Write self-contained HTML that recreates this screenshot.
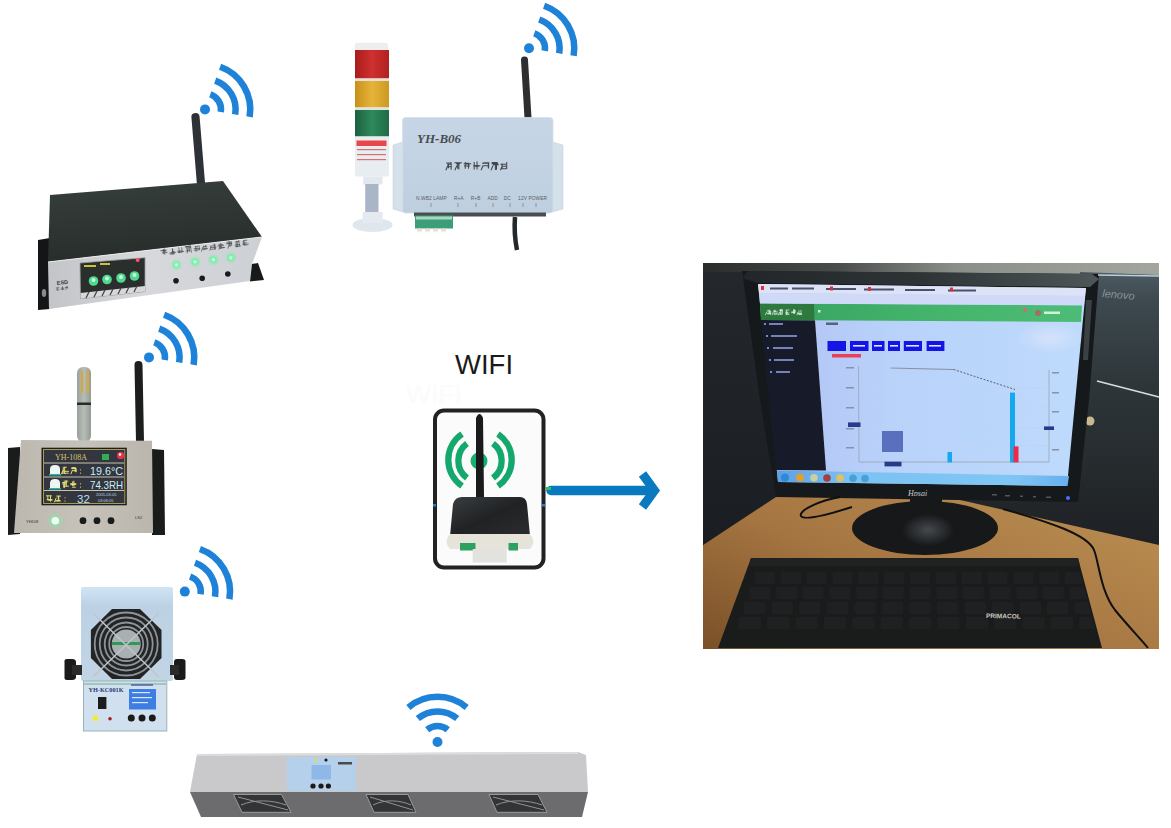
<!DOCTYPE html><html><head><meta charset="utf-8"><style>
html,body{margin:0;padding:0;background:#fff;width:1171px;height:828px;overflow:hidden}
svg{display:block}
text{font-family:"Liberation Sans",sans-serif}
</style></head><body>
<svg width="1171" height="828" viewBox="0 0 1171 828">
<rect width="1171" height="828" fill="#ffffff"/>
<g id="photo">
<defs>
<linearGradient id="wall" x1="0" y1="0" x2="1" y2="0">
 <stop offset="0" stop-color="#2a2c2c"/><stop offset="0.3" stop-color="#4a4d4c"/><stop offset="0.55" stop-color="#8a8e88"/><stop offset="1" stop-color="#a2a69e"/>
</linearGradient>
<linearGradient id="desk" x1="1" y1="0.2" x2="0" y2="1">
 <stop offset="0" stop-color="#b88c50"/><stop offset="0.5" stop-color="#a67642"/><stop offset="1" stop-color="#7a5028"/>
</linearGradient>
<linearGradient id="tower" x1="0" y1="0" x2="0" y2="1">
 <stop offset="0" stop-color="#4e5a62"/><stop offset="0.1" stop-color="#3e4a50"/><stop offset="0.4" stop-color="#2e363a"/><stop offset="0.76" stop-color="#24292c"/><stop offset="1" stop-color="#1e2024"/>
</linearGradient>
<linearGradient id="scr" x1="0" y1="0" x2="1" y2="0">
 <stop offset="0" stop-color="#b2c0f4"/><stop offset="0.4" stop-color="#b8d2fa"/><stop offset="1" stop-color="#bedafc"/>
</linearGradient>
<linearGradient id="task" x1="0" y1="0" x2="1" y2="0">
 <stop offset="0" stop-color="#5c9ee6"/><stop offset="0.25" stop-color="#7cc2f2"/><stop offset="0.8" stop-color="#80c6f4"/><stop offset="1" stop-color="#68b0ee"/>
</linearGradient>
</defs>
<rect x="703" y="263" width="456" height="386" fill="#202428"/>
<rect x="703" y="263" width="456" height="12" fill="url(#wall)"/>
<!-- desk -->
<polygon points="703,545 772,497 1159,497 1159,649 703,649" fill="url(#desk)"/>
<!-- tower -->
<polygon points="1080,272 1159,275 1159,545 960,500 1076,500" fill="url(#tower)"/>
<text x="1102" y="297" font-size="11" font-style="italic" fill="#8a9498" transform="rotate(5 1102 297)">lenovo</text>
<line x1="1097" y1="381" x2="1159" y2="397" stroke="#d8dcdc" stroke-width="1.8"/>
<circle cx="1090" cy="421" r="4.5" fill="#c8b890"/>
<!-- wall left dark -->
<linearGradient id="lwall" x1="0" y1="0" x2="0" y2="1"><stop offset="0" stop-color="#24282c"/><stop offset="1" stop-color="#1a1e22"/></linearGradient>
<polygon points="703,272 745,272 776,497 703,545" fill="url(#lwall)"/>
<!-- monitor bezel -->
<polygon points="742,271 1099,274 1089,400 1078,502 776,497 760,400" fill="#16191c"/>
<polygon points="1086,300 1092,300 1088,360 1083,360" fill="#3a4044"/>
<linearGradient id="bztop" x1="0" y1="0" x2="1" y2="0"><stop offset="0" stop-color="#22262a"/><stop offset="0.5" stop-color="#2e3436"/><stop offset="1" stop-color="#4e5658"/></linearGradient>
<polygon points="748,271 1092,274 1099,279 1090,287 758,283 742,278" fill="url(#bztop)"/>
<line x1="1098" y1="275" x2="1159" y2="276" stroke="#b8d0dc" stroke-width="1.5"/>
<!-- screen -->
<polygon points="758,284 1086,288 1067,486 778,482" fill="url(#scr)"/>
<!-- tabs row -->
<polygon points="758,284 1086,288 1085,296 759,293" fill="#dde2f4"/>
<!-- green band -->
<linearGradient id="gband" x1="0" y1="0" x2="1" y2="0"><stop offset="0" stop-color="#36a262"/><stop offset="0.6" stop-color="#46b66c"/><stop offset="1" stop-color="#4cbc78"/></linearGradient>
<polygon points="760,303.5 1082,305.5 1081,322 761,320" fill="url(#gband)"/>
<polygon points="760,303.5 814,304 814.5,320.4 761,320" fill="#2e7a3e"/>
<!-- sidebar -->
<polygon points="761,320 815,320.4 826,470.5 776,470" fill="#171a28"/>
<!-- taskbar -->
<polygon points="777,470.5 1069,476 1067.5,486 778,482" fill="url(#task)"/>
<g fill="#7088e0">
<rect x="764" y="323" width="2" height="2"/><rect x="766" y="335" width="2" height="2"/><rect x="767" y="347" width="2" height="2"/><rect x="769" y="359" width="2" height="2"/><rect x="770" y="371" width="2" height="2"/>
</g>
<g fill="#8a9ce0" opacity="0.8">
<rect x="769" y="323" width="14" height="2"/><rect x="771" y="335" width="26" height="2"/>
<rect x="773" y="347" width="20" height="2"/><rect x="774" y="359" width="20" height="2"/>
<rect x="776" y="371" width="14" height="2"/>
</g>
<path d="M767.66,313.86H771.12M767.66,311.98H769.97M766.92,313.58H770.79M766.87,310.77H769.88M769.97,310.45V313.47M770.64,310.94V314.57M769.22,309.49V313.42M766.69,311.90L765.30,315.19M773.46,313.92H777.41M773.45,311.41H776.28M772.87,310.98H775.91M774.91,309.70V315.18M777.00,310.71V314.66M773.36,311.90L771.98,315.19M779.69,310.06H782.41M779.16,310.41H782.33M779.93,310.00H782.62M778.70,314.14H782.93M780.97,309.34V314.52M782.45,309.69V313.55M780.72,310.93V314.75M779.70,311.90L778.31,315.19M785.80,309.97H789.45M785.27,313.02H789.49M786.39,314.40H789.32M786.18,309.96V313.78M786.78,310.95V314.84M787.42,311.90L786.03,315.19M793.13,310.77H795.97M791.28,312.55H795.09M791.22,311.93H795.99M793.53,309.34V313.77M794.50,309.23V314.06M798.44,314.28H802.22M797.85,313.86H801.40M799.09,314.05H801.59M798.95,310.33V314.39M801.00,309.90V314.26M798.16,311.90L796.77,315.19" stroke="#e8f0e8" stroke-width="0.72" fill="none"/>
<rect x="818" y="310" width="2.5" height="2.5" fill="#d8f0e0"/>
<circle cx="1038" cy="313" r="3" fill="#a07060"/><rect x="1044" y="311.5" width="16" height="2.5" fill="#d0f0d8"/>
<circle cx="1025" cy="310" r="2" fill="#e06080"/>
<g fill="#4a5070">
<rect x="770" y="287.5" width="18" height="2"/><rect x="792" y="287.5" width="22" height="2"/><rect x="826" y="288" width="30" height="2"/>
<rect x="864" y="288.5" width="30" height="2"/><rect x="905" y="289" width="30" height="2"/><rect x="948" y="289.5" width="28" height="2"/>
<rect x="772" y="297.5" width="60" height="1.6"/>
</g>
<g fill="#e03040"><rect x="761" y="286" width="3" height="4"/><rect x="830" y="286.5" width="3" height="4"/><rect x="868" y="287" width="3" height="4"/><rect x="950" y="287.5" width="3" height="4"/></g>
<rect x="826" y="322.5" width="12" height="2.5" fill="#5a6080"/>
<polygon points="759,293 1085,296 1084,305 760,303.5" fill="#d0daf8"/>
<g>
<circle cx="785" cy="477.5" r="4" fill="#2c8ad8"/><circle cx="800" cy="477.5" r="4" fill="#e0a030"/>
<circle cx="814" cy="477.8" r="3.8" fill="#c8d0a0"/><circle cx="827" cy="478" r="3.8" fill="#a04040"/>
<circle cx="840" cy="478" r="3.8" fill="#e0c060"/><circle cx="853" cy="478.3" r="3.8" fill="#48a0d8"/>
<circle cx="865" cy="478.5" r="3.8" fill="#48a0d8"/>
</g>
<radialGradient id="glare"><stop offset="0" stop-color="#dfe6fa" stop-opacity="0.7"/><stop offset="1" stop-color="#dfe6fa" stop-opacity="0"/></radialGradient>
<ellipse cx="1050" cy="338" rx="34" ry="16" fill="url(#glare)"/>
<!-- buttons -->
<rect x="827.5" y="341" width="18.5" height="10" fill="#1414e6"/>
<rect x="850" y="341" width="18.5" height="10" fill="#1414e6"/>
<rect x="872" y="341" width="12.5" height="10" fill="#1414e6"/>
<rect x="888" y="341" width="12" height="10" fill="#1414e6"/>
<rect x="903.8" y="341" width="18.2" height="10" fill="#1414e6"/>
<rect x="926.6" y="341" width="17.8" height="10" fill="#1414e6"/>
<rect x="832" y="354" width="29" height="3.5" fill="#e8405a"/>
<g fill="#e0e4ff"><rect x="853" y="345" width="12" height="1.6"/><rect x="874" y="345" width="8" height="1.6"/><rect x="890" y="345" width="8" height="1.6"/><rect x="906" y="345" width="13" height="1.6"/><rect x="929" y="345" width="12" height="1.6"/></g>
<g fill="#8a90a8"><rect x="846" y="367" width="8" height="1.5"/><rect x="846" y="387" width="8" height="1.5"/><rect x="846" y="407" width="8" height="1.5"/><rect x="846" y="428" width="8" height="1.5"/><rect x="846" y="447" width="8" height="1.5"/><rect x="1052" y="372" width="7" height="1.5"/><rect x="1052" y="392" width="7" height="1.5"/><rect x="1052" y="411" width="7" height="1.5"/><rect x="1052" y="449" width="7" height="1.5"/></g>
<g fill="#e8ecff"><rect x="884" y="433" width="12" height="1.5"/><rect x="886" y="438" width="8" height="1.5"/><rect x="886" y="443" width="9" height="1.5"/><rect x="886" y="448" width="12" height="1.5"/></g>
<rect x="884" y="437.5" width="1.5" height="2" fill="#18a0f0"/><rect x="884" y="442.5" width="1.5" height="2" fill="#f03050"/>
<!-- chart -->
<line x1="858.5" y1="366" x2="859" y2="462" stroke="#9aa3b3" stroke-width="0.8"/>
<line x1="1049" y1="370" x2="1049" y2="462" stroke="#9aa3b3" stroke-width="0.8"/>
<line x1="859" y1="462" x2="1049" y2="462" stroke="#9aa3b3" stroke-width="0.8"/>
<g stroke="#c4d2f0" stroke-width="0.6">
<line x1="859" y1="388" x2="1049" y2="388"/><line x1="859" y1="408" x2="1049" y2="408"/>
<line x1="859" y1="428" x2="1049" y2="428"/><line x1="859" y1="446" x2="1049" y2="446"/>
</g>
<polyline points="890.6,368 953.6,369.5" stroke="#8a8fa0" stroke-width="1" fill="none"/>
<polyline points="953.6,369.5 1015,389.5" stroke="#5a6078" stroke-width="1" stroke-dasharray="2,1.5" fill="none"/>
<rect x="947.5" y="452" width="4.5" height="10.4" fill="#16a8ee"/>
<rect x="1010" y="392.6" width="5" height="69.8" fill="#16a8ee"/>
<rect x="1013.5" y="446.4" width="5" height="16" fill="#ee2a48"/>
<rect x="882" y="431" width="21" height="21" fill="#5b6fbf"/>
<rect x="848" y="422.4" width="12.5" height="4.6" fill="#2a3a8a"/>
<rect x="1044" y="426.4" width="10" height="3.6" fill="#2a3a8a"/>
<rect x="884.5" y="461.7" width="17" height="4.7" fill="#2a3a8a"/>
<text x="908" y="496" font-size="8" font-style="italic" fill="#c8ccd0" style="font-family:'Liberation Serif',serif">Hpsai</text>
<circle cx="1068" cy="498" r="2" fill="#4a70ff"/>
<g fill="#50565a"><rect x="992" y="494" width="5" height="1.5"/><rect x="1005" y="495" width="5" height="1.5"/><rect x="1020" y="495.5" width="3" height="1.5"/><rect x="1033" y="496" width="3" height="1.5"/><rect x="1046" y="496.5" width="5" height="1.5"/></g>
<!-- stand -->
<ellipse cx="925" cy="528" rx="73" ry="27" fill="#17181a"/>
<rect x="910" y="496" width="32" height="20" fill="#17181a"/>
<radialGradient id="standhl"><stop offset="0" stop-color="#50555a" stop-opacity="0.8"/><stop offset="1" stop-color="#50555a" stop-opacity="0"/></radialGradient>
<ellipse cx="928" cy="530" rx="26" ry="16" fill="url(#standhl)"/>
<!-- keyboard -->
<polygon points="751,558 1078,558 1102,648 718,648" fill="#1a1c1c"/>
<polygon points="751,558 1078,558 1080,566 749,566" fill="#202222"/>
<clipPath id="kbclip"><polygon points="751,566 1078,566 1100,645 721,645"/></clipPath>
<g fill="#1e2021" clip-path="url(#kbclip)">
<rect x="754.8" y="572" width="20.3" height="12" rx="1.5"/>
<rect x="780.7" y="572" width="20.3" height="12" rx="1.5"/>
<rect x="806.5" y="572" width="20.3" height="12" rx="1.5"/>
<rect x="832.4" y="572" width="20.3" height="12" rx="1.5"/>
<rect x="858.2" y="572" width="20.3" height="12" rx="1.5"/>
<rect x="884.0" y="572" width="20.3" height="12" rx="1.5"/>
<rect x="909.9" y="572" width="20.3" height="12" rx="1.5"/>
<rect x="935.7" y="572" width="20.3" height="12" rx="1.5"/>
<rect x="961.6" y="572" width="20.3" height="12" rx="1.5"/>
<rect x="987.4" y="572" width="20.3" height="12" rx="1.5"/>
<rect x="1013.2" y="572" width="20.3" height="12" rx="1.5"/>
<rect x="1039.1" y="572" width="20.3" height="12" rx="1.5"/>
<rect x="1064.9" y="572" width="20.3" height="12" rx="1.5"/>
<rect x="1090.8" y="572" width="20.3" height="12" rx="1.5"/>
<rect x="749.4" y="587" width="20.9" height="12" rx="1.5"/>
<rect x="776.1" y="587" width="20.9" height="12" rx="1.5"/>
<rect x="802.8" y="587" width="20.9" height="12" rx="1.5"/>
<rect x="829.5" y="587" width="20.9" height="12" rx="1.5"/>
<rect x="856.2" y="587" width="20.9" height="12" rx="1.5"/>
<rect x="882.9" y="587" width="20.9" height="12" rx="1.5"/>
<rect x="909.6" y="587" width="20.9" height="12" rx="1.5"/>
<rect x="936.3" y="587" width="20.9" height="12" rx="1.5"/>
<rect x="963.0" y="587" width="20.9" height="12" rx="1.5"/>
<rect x="989.7" y="587" width="20.9" height="12" rx="1.5"/>
<rect x="1016.3" y="587" width="20.9" height="12" rx="1.5"/>
<rect x="1043.0" y="587" width="20.9" height="12" rx="1.5"/>
<rect x="1069.7" y="587" width="20.9" height="12" rx="1.5"/>
<rect x="1096.4" y="587" width="20.9" height="12" rx="1.5"/>
<rect x="744.0" y="602" width="21.6" height="12" rx="1.5"/>
<rect x="771.6" y="602" width="21.6" height="12" rx="1.5"/>
<rect x="799.1" y="602" width="21.6" height="12" rx="1.5"/>
<rect x="826.7" y="602" width="21.6" height="12" rx="1.5"/>
<rect x="854.2" y="602" width="21.6" height="12" rx="1.5"/>
<rect x="881.7" y="602" width="21.6" height="12" rx="1.5"/>
<rect x="909.3" y="602" width="21.6" height="12" rx="1.5"/>
<rect x="936.8" y="602" width="21.6" height="12" rx="1.5"/>
<rect x="964.4" y="602" width="21.6" height="12" rx="1.5"/>
<rect x="991.9" y="602" width="21.6" height="12" rx="1.5"/>
<rect x="1019.4" y="602" width="21.6" height="12" rx="1.5"/>
<rect x="1047.0" y="602" width="21.6" height="12" rx="1.5"/>
<rect x="1074.5" y="602" width="21.6" height="12" rx="1.5"/>
<rect x="1102.1" y="602" width="21.6" height="12" rx="1.5"/>
<rect x="738.6" y="617" width="22.3" height="12" rx="1.5"/>
<rect x="767.0" y="617" width="22.3" height="12" rx="1.5"/>
<rect x="795.4" y="617" width="22.3" height="12" rx="1.5"/>
<rect x="823.8" y="617" width="22.3" height="12" rx="1.5"/>
<rect x="852.2" y="617" width="22.3" height="12" rx="1.5"/>
<rect x="880.6" y="617" width="22.3" height="12" rx="1.5"/>
<rect x="909.0" y="617" width="22.3" height="12" rx="1.5"/>
<rect x="937.4" y="617" width="22.3" height="12" rx="1.5"/>
<rect x="965.8" y="617" width="22.3" height="12" rx="1.5"/>
<rect x="994.1" y="617" width="22.3" height="12" rx="1.5"/>
<rect x="1022.5" y="617" width="22.3" height="12" rx="1.5"/>
<rect x="1050.9" y="617" width="22.3" height="12" rx="1.5"/>
<rect x="1079.3" y="617" width="22.3" height="12" rx="1.5"/>
<rect x="1107.7" y="617" width="22.3" height="12" rx="1.5"/>
</g>
<text x="986" y="618" font-size="6.5" font-weight="bold" fill="#c8c8c0" transform="rotate(1 986 618)">PRIMACOL</text>
<!-- cable -->
<path d="M840,497 C822,500 798,510 801,516 C804,521 830,514 852,507" stroke="#0e0f10" stroke-width="2" fill="none"/>
<path d="M1003,509 C1050,522 1088,535 1094,550 C1099,562 1100,590 1115,610 C1128,626 1140,638 1148,648" stroke="#111" stroke-width="2" fill="none"/>
</g>
<g id="dev1">
<defs>
<linearGradient id="d1front" x1="0" y1="0" x2="1" y2="0">
 <stop offset="0" stop-color="#c2c4c8"/><stop offset="0.45" stop-color="#d6d8dc"/><stop offset="1" stop-color="#cdd0d4"/>
</linearGradient>
<radialGradient id="led"><stop offset="0" stop-color="#f0fff4"/><stop offset="0.4" stop-color="#7af0a8"/><stop offset="1" stop-color="#7af0a8" stop-opacity="0"/></radialGradient>
</defs>
<line x1="195.5" y1="117" x2="201" y2="184" stroke="#2e3236" stroke-width="8.2" stroke-linecap="round"/>
<polygon points="38,240 50,238 50,309 38,310" fill="#141516"/>
<ellipse cx="44" cy="293" rx="2.2" ry="4" fill="#8a8a8a"/>
<linearGradient id="d1top" x1="0.3" y1="0" x2="0.5" y2="1"><stop offset="0" stop-color="#363e3c"/><stop offset="1" stop-color="#262c2a"/></linearGradient>
<polygon points="50,195 223,181 262,237 48,262" fill="url(#d1top)"/>
<polygon points="48,262 262,237 252,264 250,281 49,309" fill="url(#d1front)"/>
<line x1="48" y1="262" x2="262" y2="237" stroke="#eaeaea" stroke-width="1"/>
<polygon points="252,264 258,263 264,280 250,281.5" fill="#18191a"/>
<polygon points="80,263 145,257.7 145,291.5 80.5,298.7" fill="#2a2e2c" stroke="#9a9a9a" stroke-width="0.8"/>
<polygon points="80.5,293 145,286 145,291.5 80.5,298.7" fill="#d8d8d8"/>
<g stroke="#444" stroke-width="1.2">
<line x1="86" y1="298" x2="89" y2="292"/><line x1="94" y1="297" x2="97" y2="291"/><line x1="102" y1="296" x2="105" y2="290"/>
<line x1="110" y1="295" x2="113" y2="289"/><line x1="118" y1="294" x2="121" y2="288"/><line x1="126" y1="293" x2="129" y2="287"/><line x1="134" y1="292" x2="137" y2="286"/>
</g>
<circle cx="93.5" cy="281" r="4.8" fill="#50d890"/><circle cx="93.5" cy="280" r="2" fill="#c8f8d8"/>
<circle cx="107" cy="279.5" r="4.8" fill="#50d890"/><circle cx="107" cy="278.5" r="2" fill="#c8f8d8"/>
<circle cx="121" cy="278" r="4.8" fill="#50d890"/><circle cx="121" cy="277" r="2" fill="#c8f8d8"/>
<circle cx="134.5" cy="276" r="4.8" fill="#50d890"/><circle cx="134.5" cy="275" r="2" fill="#c8f8d8"/>
<rect x="84" y="265" width="12" height="2" fill="#c8c040"/><rect x="100" y="263" width="10" height="2" fill="#c8c040"/>
<circle cx="137.6" cy="260" r="2" fill="#ff5070"/>
<circle cx="176.5" cy="264.8" r="6" fill="url(#led)"/>
<circle cx="195" cy="261.8" r="6" fill="url(#led)"/>
<circle cx="213.4" cy="259.7" r="6" fill="url(#led)"/>
<circle cx="230.9" cy="257.7" r="6" fill="url(#led)"/>
<circle cx="176" cy="280.8" r="2.8" fill="#1a1a1a"/>
<circle cx="202.2" cy="278.2" r="2.8" fill="#1a1a1a"/>
<circle cx="227.8" cy="274" r="2.8" fill="#1a1a1a"/>
<path d="M162.34,250.98H166.57M163.52,251.65H166.91M162.16,253.20H167.87M161.00,250.74H167.27M163.94,249.25V254.40M164.99,248.92V255.11M169.42,254.11H176.21M170.87,254.24H174.45M170.27,255.25H175.01M171.65,253.30H175.25M173.10,250.74V255.98M173.09,249.64V254.10M173.35,250.02V255.01M177.61,253.18H182.57M178.06,254.05H184.47M178.37,254.52H182.87M179.67,249.31V255.10M182.57,249.62V253.97M185.67,249.58H192.00M186.12,249.65H191.82M186.16,253.85H190.49M186.69,251.01H191.55M189.90,248.58V254.98M187.74,249.11V255.02M191.53,249.58V256.14M188.99,251.96L187.19,256.25M195.74,250.47H199.05M196.19,252.98H200.80M194.25,254.14H200.50M194.43,252.36H198.78M199.93,249.63V253.96M196.51,250.30V255.85M203.27,254.03H207.93M203.73,251.49H207.81M203.13,253.76H208.25M204.49,250.66V255.11M206.60,250.10V254.41M203.46,251.96L201.65,256.25M210.53,253.50H217.13M210.81,251.88H215.99M211.61,255.19H216.47M215.12,249.43V255.28M215.83,250.30V255.26M211.99,251.96L210.18,256.25M218.44,252.73H224.88M220.41,254.74H225.36M219.75,254.78H225.08M218.65,251.64H223.98M220.85,250.31V255.51M221.97,249.88V254.40M221.08,251.96L219.28,256.25M227.50,249.82H231.50M228.33,251.36H233.11M227.05,251.23H233.00M232.40,249.31V253.98M230.15,249.49V254.33M231.05,249.25V254.47M230.05,251.96L228.24,256.25M235.73,255.10H241.63M235.55,253.47H240.79M237.08,250.26H240.33M238.23,249.87V255.88M237.14,249.53V255.91M240.08,248.99V255.17M244.11,252.48H247.82M244.44,250.02H248.48M243.04,253.90H249.65M244.60,254.69H248.12M245.22,249.73V254.50M244.31,250.33V254.58" stroke="#505050" stroke-width="0.70" fill="none" transform="rotate(-6.5 161 256)"/>
<text x="57" y="285" font-size="5.5" font-weight="bold" fill="#333" transform="rotate(-6.5 57 285)">ESD</text>
<path d="M57.26,288.32H59.69M56.90,290.26H59.50M56.89,290.20H58.83M57.17,287.60H59.61M57.79,287.93V290.63M56.63,287.21V290.04M61.53,290.06H64.39M60.86,289.95H64.25M61.55,288.95H63.86M61.00,288.77H63.67M62.91,287.30V290.62M62.85,287.20V290.43M66.01,288.80H68.32M65.25,288.33H68.07M65.36,288.58H67.96M67.19,287.57V290.58M68.05,287.76V290.02M66.39,288.78L65.40,291.13" stroke="#444" stroke-width="0.38" fill="none" transform="rotate(-6.5 56 291)"/>
</g>
<path d="M210.3,94.3 A16.0,16.0 0 0 1 220.8,112.0" stroke="#1e82d8" stroke-width="6.5" fill="none"/>
<path d="M215.2,80.6 A30.6,30.6 0 0 1 235.2,114.5" stroke="#1e82d8" stroke-width="6.5" fill="none"/>
<path d="M220.1,66.8 A45.2,45.2 0 0 1 249.6,116.9" stroke="#1e82d8" stroke-width="6.5" fill="none"/>
<circle cx="205" cy="109.4" r="5.0" fill="#1e82d8"/>
<g id="dev2">
<defs>
<linearGradient id="red" x1="0" y1="0" x2="1" y2="0"><stop offset="0" stop-color="#a81c1c"/><stop offset="0.5" stop-color="#d03030"/><stop offset="1" stop-color="#b02020"/></linearGradient>
<linearGradient id="amb" x1="0" y1="0" x2="1" y2="0"><stop offset="0" stop-color="#c8901a"/><stop offset="0.5" stop-color="#e6b43a"/><stop offset="1" stop-color="#cc9a22"/></linearGradient>
<linearGradient id="grn" x1="0" y1="0" x2="1" y2="0"><stop offset="0" stop-color="#1c6040"/><stop offset="0.5" stop-color="#2f8a5c"/><stop offset="1" stop-color="#1f6a46"/></linearGradient>
<linearGradient id="box2" x1="0" y1="0" x2="0" y2="1"><stop offset="0" stop-color="#c6d6e6"/><stop offset="1" stop-color="#becfe0"/></linearGradient>
</defs>
<rect x="354.7" y="42.7" width="33.5" height="8" rx="3" fill="#eeeeee"/>
<rect x="355" y="50" width="34" height="28.5" fill="url(#red)"/>
<rect x="355" y="78.5" width="34" height="2.5" fill="#e8e0d8"/>
<rect x="355" y="81" width="34" height="26.5" fill="url(#amb)"/>
<rect x="355" y="107.5" width="34" height="2.5" fill="#e0e4e0"/>
<rect x="355" y="110" width="34" height="26.5" fill="url(#grn)"/>
<rect x="355" y="136.5" width="34" height="40" fill="#e8edf2"/>
<rect x="356.5" y="140.5" width="30" height="5.5" fill="#e84848"/>
<rect x="357" y="149" width="29" height="1.2" fill="#d87070"/>
<rect x="357" y="154" width="29" height="1.2" fill="#d87070"/>
<rect x="357" y="159" width="29" height="1.2" fill="#d87070"/>
<rect x="363.2" y="176.5" width="19.3" height="8" fill="#e2e8ee"/>
<rect x="365.2" y="184" width="13.3" height="30" fill="#aab6c8"/>
<ellipse cx="372.5" cy="225" rx="20" ry="7" fill="#dfe6ec"/>
<rect x="362.6" y="212" width="20" height="11" fill="#e4eaf0"/>
<line x1="524.5" y1="60" x2="528" y2="118" stroke="#2c2e30" stroke-width="7" stroke-linecap="round"/>
<polygon points="393,145 403,142 403,212 393,209" fill="#d4e0ea" stroke="#c0ccd8" stroke-width="0.5"/>
<polygon points="552,142 563,145 563,209 552,212" fill="#d4e0ea" stroke="#c0ccd8" stroke-width="0.5"/>
<rect x="402.5" y="117.5" width="150.5" height="95.5" rx="3" fill="url(#box2)" stroke="#d4e0ec" stroke-width="0.8"/>
<rect x="414" y="212.5" width="132" height="4" fill="#4a4d50"/>
<rect x="415" y="215.5" width="38" height="13" fill="#3c9e78"/>
<rect x="416" y="216.5" width="36" height="3" fill="#a8d8c0"/>
<g fill="#e8e0d0"><rect x="417" y="228.5" width="5" height="3"/><rect x="425" y="228.5" width="5" height="3"/><rect x="433" y="228.5" width="5" height="3"/><rect x="441" y="228.5" width="5" height="3"/></g>
<path d="M515,217 C514,230 515,240 517,250" stroke="#25282a" stroke-width="4.5" fill="none"/>
<text x="417" y="143" style="font-family:'Liberation Serif',serif;font-size:13px;font-style:italic;font-weight:bold" fill="#4a4d50">YH-B06</text>
<path d="M447.14,166.68H451.76M447.08,164.23H451.09M446.27,163.07H451.58M448.45,163.92V168.34M451.15,162.36V169.77M447.86,165.47L445.83,170.28M456.09,163.65H460.24M454.40,162.66H461.15M454.98,162.77H461.88M457.70,164.13V168.80M458.86,163.82V169.46M456.92,165.47L454.89,170.28M463.67,163.79H471.14M463.95,166.00H469.94M465.66,164.03H470.08M465.72,163.27H468.92M465.28,161.96V168.73M468.50,163.07V168.77M473.89,166.14H479.24M474.29,165.49H478.13M473.27,165.74H480.31M474.19,161.91V169.50M477.05,161.59V169.50M483.81,162.72H488.11M482.81,165.71H488.56M483.39,162.87H489.32M482.08,163.22H487.61M488.58,163.07V168.39M488.32,162.48V168.31M483.08,165.47L481.06,170.28M491.71,162.60H497.68M491.59,163.80H498.19M493.04,164.79H498.80M495.39,163.10V170.12M496.51,162.87V169.86M493.05,165.47L491.03,170.28M502.39,166.21H506.35M501.94,168.66H506.16M501.53,168.79H506.42M500.49,164.33H506.03M506.68,162.09V168.93M502.13,163.89V167.79M502.02,163.38V169.07M502.45,165.47L500.43,170.28" stroke="#44474a" stroke-width="1.06" fill="none"/>
<text x="416" y="200" font-size="4.8" fill="#5a5d60" textLength="131" lengthAdjust="spacing" xml:space="preserve">N.WB2 LAMP     R+A     R+B     ADD    DC     12V POWER</text>
<g stroke="#6a6d70" stroke-width="0.6"><line x1="431" y1="203" x2="431" y2="207"/><line x1="458" y1="203" x2="458" y2="207"/><line x1="476" y1="203" x2="476" y2="207"/><line x1="493" y1="203" x2="493" y2="207"/><line x1="510" y1="203" x2="510" y2="207"/><line x1="523" y1="203" x2="523" y2="207"/><line x1="536" y1="203" x2="536" y2="207"/></g>
</g>
<path d="M534.3,33.2 A16.0,16.0 0 0 1 544.8,50.9" stroke="#1e82d8" stroke-width="6.5" fill="none"/>
<path d="M539.2,19.5 A30.6,30.6 0 0 1 559.2,53.4" stroke="#1e82d8" stroke-width="6.5" fill="none"/>
<path d="M544.1,5.7 A45.2,45.2 0 0 1 573.6,55.8" stroke="#1e82d8" stroke-width="6.5" fill="none"/>
<circle cx="529" cy="48.3" r="5.0" fill="#1e82d8"/>
<g id="dev3">
<defs>
<linearGradient id="probe" x1="0" y1="0" x2="1" y2="0"><stop offset="0" stop-color="#9aa29c"/><stop offset="0.5" stop-color="#b6bcb6"/><stop offset="1" stop-color="#949a94"/></linearGradient>
<linearGradient id="panel3" x1="0" y1="0" x2="1" y2="0"><stop offset="0" stop-color="#bcb8b0"/><stop offset="0.5" stop-color="#c6c2ba"/><stop offset="1" stop-color="#bab6ae"/></linearGradient>
</defs>
<rect x="77" y="367" width="14" height="75" rx="6" fill="url(#probe)"/>
<rect x="81" y="371" width="2" height="22" fill="#d8a830"/><rect x="87" y="371" width="2" height="22" fill="#d8a830"/>
<rect x="77" y="402.5" width="14" height="2.5" fill="#2a2a2a"/>
<line x1="138.5" y1="365" x2="140" y2="442" stroke="#1c1e1e" stroke-width="8" stroke-linecap="round"/>
<polygon points="8,448 20,447 20,534 8,535" fill="#1a1b1b"/>
<polygon points="152,449 164,450 165,535 152,535" fill="#1a1b1b"/>
<polygon points="21,440 152,440.7 153,533 14,533" fill="url(#panel3)"/>
<rect x="41.5" y="447.7" width="85.3" height="57.6" fill="#1c1e24"/>
<rect x="43.5" y="449.5" width="81.3" height="54" fill="#33363e" stroke="#a89c50" stroke-width="1"/>
<line x1="44" y1="463" x2="124" y2="463" stroke="#d8d4b8" stroke-width="0.9"/>
<line x1="44" y1="477" x2="124" y2="477" stroke="#d8d4b8" stroke-width="0.9"/>
<line x1="44" y1="490.5" x2="124" y2="490.5" stroke="#d8d4b8" stroke-width="0.9"/>
<text x="55" y="460" style="font-family:'Liberation Serif',serif;font-size:8px" fill="#d8c46a">YH-108A</text>
<rect x="102" y="454" width="7" height="6" fill="#30b050"/>
<circle cx="120.6" cy="455.4" r="3.6" fill="#e8304a"/>
<circle cx="120" cy="454.5" r="1.3" fill="#fff"/>
<path d="M50,474 L50,469 Q50,465 55,465 Q60,465 60,469 L60,474 Z" fill="#eef6f4"/>
<rect x="49" y="474" width="12" height="1.5" fill="#30b0a0"/>
<path d="M50,488 L50,483 Q50,479 55,479 Q60,479 60,483 L60,488 Z" fill="#eef6f4"/>
<rect x="49" y="488" width="12" height="1.5" fill="#30b0a0"/>
<path d="M63.43,467.22H66.78M61.54,473.20H68.66M63.74,471.33H68.98M63.24,467.31V472.69M64.68,467.01V474.10M63.31,469.81L61.44,474.25M72.42,468.52H76.20M71.19,468.57H75.96M71.48,467.63H75.80M72.44,470.64H76.55M75.19,468.14V471.99M76.14,468.21V472.31M72.59,469.81L70.72,474.25" stroke="#e8e070" stroke-width="0.98" fill="none"/><circle cx="80.5" cy="469.8" r="0.60" fill="#e8e070"/><circle cx="80.5" cy="473.1" r="0.60" fill="#e8e070"/>
<text x="90" y="475" font-size="11.5" fill="#c8f0f8" textLength="33" lengthAdjust="spacingAndGlyphs">19.6°C</text>
<path d="M62.25,484.03H66.96M63.74,481.18H68.22M62.08,482.61H67.14M63.25,486.15H68.85M64.25,482.09V488.15M63.95,482.34V487.79M66.12,480.25V486.94M72.05,487.20H75.81M70.22,483.73H76.16M70.45,484.32H76.34M70.74,484.70H75.08M73.86,480.75V486.21M72.71,481.30V485.99" stroke="#e8e070" stroke-width="0.98" fill="none"/><circle cx="80.5" cy="483.8" r="0.60" fill="#e8e070"/><circle cx="80.5" cy="487.1" r="0.60" fill="#e8e070"/>
<text x="90" y="489" font-size="11.5" fill="#c8f0f8" textLength="33" lengthAdjust="spacingAndGlyphs">74.3RH</text>
<path d="M48.51,500.10H51.62M47.84,499.85H52.59M46.07,495.83H51.87M46.66,499.73H52.18M50.48,495.84V501.59M47.84,495.52V500.17M56.35,496.08H60.83M55.05,501.01H60.78M56.17,500.56H60.17M58.28,496.26V501.38M58.76,495.83V500.82M56.25,497.81L54.38,502.25" stroke="#e8e070" stroke-width="0.98" fill="none"/><circle cx="65.0" cy="497.8" r="0.60" fill="#e8e070"/><circle cx="65.0" cy="501.1" r="0.60" fill="#e8e070"/>
<text x="77" y="503" font-size="11.5" fill="#b8e0f8">32</text>
<text x="96" y="495.5" font-size="4" fill="#b8d8f0">2005-03-05</text>
<text x="98" y="501.5" font-size="4" fill="#b8d8f0">03:06:05</text>
<circle cx="55.3" cy="520.7" r="7" fill="#7cf0a0" opacity="0.45"/>
<circle cx="55.3" cy="520.7" r="3.8" fill="#f0fff4"/>
<circle cx="83" cy="520.7" r="3.4" fill="#1a1c1c"/>
<circle cx="97" cy="520.7" r="3.4" fill="#1a1c1c"/>
<circle cx="111" cy="520.7" r="3.4" fill="#1a1c1c"/>
<text x="26" y="523" font-size="4" fill="#333">YH108</text>
<text x="135" y="519" font-size="4" fill="#333">LS2</text>
</g>
<path d="M154.3,342.3 A16.0,16.0 0 0 1 164.8,360.0" stroke="#1e82d8" stroke-width="6.5" fill="none"/>
<path d="M159.2,328.6 A30.6,30.6 0 0 1 179.2,362.5" stroke="#1e82d8" stroke-width="6.5" fill="none"/>
<path d="M164.1,314.8 A45.2,45.2 0 0 1 193.6,364.9" stroke="#1e82d8" stroke-width="6.5" fill="none"/>
<circle cx="149" cy="357.4" r="5.0" fill="#1e82d8"/>
<g id="dev4">
<defs>
<linearGradient id="fanbox" x1="0" y1="0" x2="0" y2="1"><stop offset="0" stop-color="#d0e4f4"/><stop offset="0.12" stop-color="#c4daec"/><stop offset="0.2" stop-color="#bcd2e4"/><stop offset="1" stop-color="#c0d4e4"/></linearGradient>
</defs>
<rect x="81" y="587" width="92" height="94" rx="2" fill="url(#fanbox)"/>
<polygon points="112,609 140,609 161.5,630 161.5,658 140,679 112,679 90.9,658 90.9,630" fill="#222426"/>
<g fill="none" stroke="#8c9498" stroke-width="1.8">
<circle cx="126.2" cy="644" r="31.5"/><circle cx="126.2" cy="644" r="26.5"/><circle cx="126.2" cy="644" r="21.5"/><circle cx="126.2" cy="644" r="17"/>
</g>
<circle cx="126.2" cy="644" r="14.5" fill="#a9b0b4"/>
<rect x="112" y="642" width="28" height="3" fill="#2f9a58"/>
<line x1="93" y1="613" x2="159" y2="677" stroke="#c0c6ca" stroke-width="1.4"/>
<line x1="159" y1="613" x2="93" y2="677" stroke="#c0c6ca" stroke-width="1.4"/>
<path d="M64.5,662 Q64,659 67,659 L72,659 Q76,659 76,662 L76,677 Q76,680 72,680 L67,680 Q64,680 64.5,677 Z" fill="#1a1a1a"/>
<rect x="72" y="665" width="10" height="10" fill="#2a2a2a"/>
<path d="M174,662 Q174,659 177,659 L182,659 Q186,659 185.5,662 L185.5,677 Q186,680 182,680 L177,680 Q174,680 174,677 Z" fill="#1a1a1a"/>
<rect x="170" y="665" width="9" height="10" fill="#2a2a2a"/>
<rect x="83.5" y="681" width="83.3" height="50" fill="#d0e0ee" stroke="#98b4b8" stroke-width="1"/>
<line x1="84" y1="684" x2="166" y2="684" stroke="#5aa070" stroke-width="0.8"/>
<rect x="129" y="689" width="27" height="20.5" fill="#3e7ee2"/>
<g fill="#d8e8ff"><rect x="132" y="692" width="18" height="1.2"/><rect x="132" y="697" width="20" height="1.2"/><rect x="132" y="702" width="16" height="1.2"/></g>
<text x="88.5" y="691.5" style="font-family:'Liberation Serif',serif;font-size:5.5px;font-weight:bold" fill="#2a3a70" textLength="35" lengthAdjust="spacingAndGlyphs">YH-KC001K</text>
<rect x="131" y="684" width="22" height="2" fill="#3a5a9a" opacity="0.7"/>
<rect x="98" y="697" width="8.4" height="12" fill="#1c1c1c"/>
<circle cx="95.5" cy="718.3" r="3.5" fill="#f0f060" opacity="0.5"/><circle cx="95.5" cy="718.3" r="2.2" fill="#e8f020"/>
<circle cx="110" cy="718.7" r="1.8" fill="#a02020"/>
<circle cx="131.3" cy="718" r="3.5" fill="#1a1a1a"/>
<circle cx="142" cy="718" r="3.5" fill="#1a1a1a"/>
<circle cx="152.3" cy="718" r="3.5" fill="#1a1a1a"/>
</g>
<path d="M190.1,576.5 A16.0,16.0 0 0 1 200.6,594.2" stroke="#1e82d8" stroke-width="6.5" fill="none"/>
<path d="M195.0,562.8 A30.6,30.6 0 0 1 215.0,596.7" stroke="#1e82d8" stroke-width="6.5" fill="none"/>
<path d="M199.9,549.0 A45.2,45.2 0 0 1 229.4,599.1" stroke="#1e82d8" stroke-width="6.5" fill="none"/>
<circle cx="184.8" cy="591.6" r="5.0" fill="#1e82d8"/>
<g id="dev5">
<polygon points="197,754 578,752 586,755 588,792 190,792" fill="#c9c9cb"/>
<polygon points="190,792 588,792 582,817 201,817" fill="#6c6c6e"/>

<g fill="#333436" stroke="#9a9a9c" stroke-width="1">
<polygon points="233.5,794.5 281.5,794.5 291,812.3 242,812.3"/>
<polygon points="366,794.5 408,794.5 416,812.3 374,812.3"/>
<polygon points="489,794.5 538,794.5 547,812.3 497,812.3"/>
</g>
<g stroke="#909294" stroke-width="1" fill="none">
<path d="M238,797 L288,810"/><path d="M241,805 C255,799 272,800 286,805"/>
<path d="M370,797 L413,810"/><path d="M373,805 C385,799 400,800 411,805"/>
<path d="M493,797 L544,810"/><path d="M496,805 C510,799 528,800 542,805"/>
</g>
<polygon points="197,754 578,752 578,754 197,756" fill="#dcdcdc"/>
<rect x="287" y="757" width="68.7" height="33.7" fill="#b5d0ea"/>
<rect x="311.5" y="765" width="19.5" height="14.5" fill="#8fb8e8"/>
<circle cx="313" cy="786" r="2.6" fill="#1a1a1a"/>
<circle cx="321" cy="786" r="2.6" fill="#1a1a1a"/>
<circle cx="328.4" cy="786" r="2.6" fill="#1a1a1a"/>
<circle cx="316" cy="760" r="1.6" fill="#e0e040"/>
<circle cx="326" cy="760" r="1.6" fill="#1a1a1a"/>
<rect x="338" y="762" width="14" height="2.5" fill="#4a4a4a"/>



</g>
<path d="M427.2,729.7 A16.0,16.0 0 0 1 447.8,729.7" stroke="#1e82d8" stroke-width="6.5" fill="none"/>
<path d="M417.8,718.6 A30.6,30.6 0 0 1 457.2,718.6" stroke="#1e82d8" stroke-width="6.5" fill="none"/>
<path d="M408.4,707.4 A45.2,45.2 0 0 1 466.6,707.4" stroke="#1e82d8" stroke-width="6.5" fill="none"/>
<circle cx="437.5" cy="742" r="5.0" fill="#1e82d8"/>
<g id="router">
<text x="455" y="374" font-size="27.5" fill="#1a1a1a">WIFI</text>
<text x="406" y="403" font-size="26.5" fill="#fbfbfb">WIFI</text>
<rect x="435" y="410.5" width="108.5" height="157" rx="9" fill="#fbfbfb" stroke="#222" stroke-width="4"/>
<g fill="none" stroke="#14a86c" stroke-width="6.3">
<path d="M462,434 A31.5,31.5 0 0 0 462,486"/>
<path d="M467,443.5 A21.5,21.5 0 0 0 467,478"/>
<path d="M498,434 A31.5,31.5 0 0 1 498,486"/>
<path d="M493,443.5 A21.5,21.5 0 0 1 493,478"/>
</g>
<circle cx="479" cy="461" r="8.5" fill="#18b070"/>
<path d="M476,418 Q479.5,410 483,418 L484,497 L476,497 Z" fill="#1a1a1a"/>
<linearGradient id="rbody" x1="0" y1="0" x2="1" y2="1"><stop offset="0" stop-color="#3a3e40"/><stop offset="0.5" stop-color="#202224"/><stop offset="1" stop-color="#2a2c2e"/></linearGradient>
<path d="M462,497 L520,497 Q526,497 527,504 L530,536 L450,536 L453,504 Q455,497 462,497 Z" fill="url(#rbody)"/>
<path d="M450,534 L530,534 Q537,542 530,549 L450,549 Q443,542 450,534 Z" fill="#e6e4da"/>
<rect x="460" y="543" width="15.5" height="7.5" fill="#2ea060"/>
<rect x="508.5" y="543" width="9.5" height="7.5" fill="#2ea060"/>
<rect x="472.7" y="549" width="34" height="13.5" fill="#e2e2de"/>
<line x1="551" y1="490.5" x2="650" y2="490.5" stroke="#0a7ac0" stroke-width="9.5" stroke-linecap="round"/>
<rect x="546" y="487" width="5" height="3" fill="#30c060"/>
<rect x="433" y="504" width="3" height="2.5" fill="#2080d0"/><rect x="542" y="504" width="3" height="2.5" fill="#2080d0"/>
<polyline points="642.5,474 654.5,490.5 642.5,507" fill="none" stroke="#0a7ac0" stroke-width="9" stroke-linecap="butt" stroke-linejoin="miter"/>
</g>
</svg></body></html>
